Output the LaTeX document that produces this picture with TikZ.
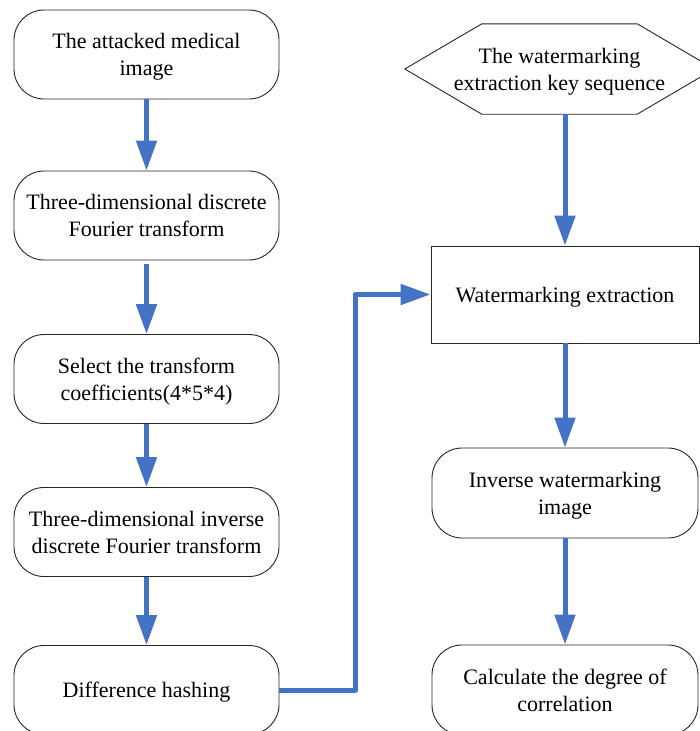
\documentclass[tikz,border=0pt]{standalone}
\usepackage{fontspec}
\setmainfont{Liberation Serif}
\usetikzlibrary{arrows.meta}
\definecolor{flowblue}{HTML}{4472C4}
\tikzset{
  boxfont/.style={font=\fontsize{22}{27}\selectfont, text depth=0pt},
  roundbox/.style={draw=black!85, line width=0.9pt, rounded corners=30pt, align=center,
    minimum width=265pt, minimum height=89pt, inner sep=0pt, boxfont},
  plainbox/.style={draw=black!85, line width=0.9pt, align=center,
    minimum width=268pt, minimum height=97pt, inner sep=0pt, boxfont},
  hextext/.style={align=center, minimum width=309pt, minimum height=90pt, inner sep=0pt, boxfont},
  flow/.style={draw=flowblue, line width=5pt, line join=round,
    -{Triangle[length=30pt,width=20pt]}}
}
\begin{document}
\begin{tikzpicture}[x=1pt,y=-1pt]
\useasboundingbox (0,0) rectangle (700,731);
\clip (0,0) rectangle (700,731);
\fill[white] (0,0) rectangle (700,731);
% left column
\node[roundbox] (a) at (146.5,54.5) {The attacked medical\\image};
\node[roundbox] (b) at (146.5,215.5) {Three-dimensional discrete\\Fourier transform};
\node[roundbox] (c) at (146.5,379) {Select the transform\\coefficients(4*5*4)};
\node[roundbox] (d) at (146.5,532) {Three-dimensional inverse\\discrete Fourier transform};
\node[roundbox] (e) at (146.5,690) {Difference hashing};
% right column
\node[hextext] (k) at (559.5,69) {The watermarking\\extraction key sequence};
\draw[black!85, line width=0.9pt] (k.west) -- ([xshift=77pt]k.north west) -- ([xshift=-77pt]k.north east)
  -- (k.east) -- ([xshift=-77pt]k.south east) -- ([xshift=77pt]k.south west) -- cycle;
\node[plainbox] (w) at (565,294.5) {Watermarking extraction};
\node[roundbox, minimum width=266pt, minimum height=90pt] (i) at (565,493) {Inverse watermarking\\image};
\node[roundbox, minimum width=266pt, minimum height=90pt] (r) at (565,690) {Calculate the degree of\\correlation};
% connectors
\draw[flow] (a.south) -- (b.north);
\draw[flow, shorten <=4pt] (b.south) -- (c.north);
\draw[flow] (c.south) -- (d.north);
\draw[flow] (d.south) -- (e.north);
\draw[flow] (k.south -| w.north) -- (w.north);
\draw[flow] (w.south) -- (i.north);
\draw[flow] (i.south) -- (r.north);
\coordinate (bend) at (355,690);
\draw[flow] (e.east) -- (bend) -- (bend |- w.west) -- (w.west);
\end{tikzpicture}
\end{document}
